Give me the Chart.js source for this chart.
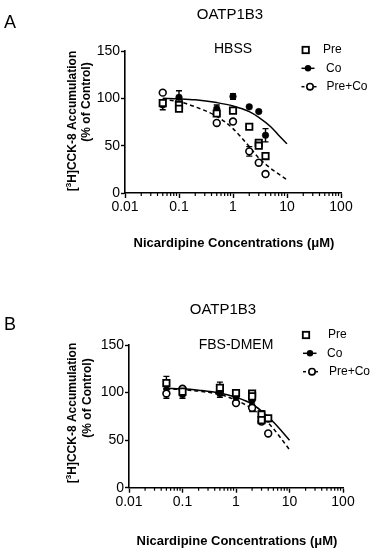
<!DOCTYPE html>
<html>
<head>
<meta charset="utf-8">
<script src="https://cdn.jsdelivr.net/npm/chart.js@4"></script>
<style>
  html, body { margin: 0; padding: 0; background: #fff; }
  #wrap { position: relative; width: 375px; height: 550px; }
  canvas { position: absolute; left: 0; }
  #chartA { top: 0; }
  #chartB { top: 275px; }
</style>
</head>
<body>
<div id="wrap">
  <canvas id="chartA" width="375" height="275"></canvas>
  <canvas id="chartB" width="375" height="275"></canvas>
</div>
<script>
const FONT = "'Liberation Sans', Arial, Helvetica, sans-serif";

// shared axes / labels
const xTicks = [0.01, 0.1, 1, 10, 100];
const xTickLabels = ['0.01', '0.1', '1', '10', '100'];
const yTicks = [0, 50, 100, 150];
const yTickLabels = ['0', '50', '100', '150'];
const seriesNames = ['Pre', 'Co', 'Pre+Co'];
const panelTitle = 'OATP1B3';
const xTitle = 'Nicardipine Concentrations (\u03bcM)';

// Panel A - HBSS
const aPreX = [0.05, 0.1, 0.1, 0.5, 1, 2, 3, 3, 4];
const aPreY = [95, 93, 89, 84, 87, 70, 53, 50, 39];
const aPreErr = [3, 0, 2, 3, 2, 0, 2, 0, 2];
const aCoX = [0.05, 0.1, 0.5, 1, 2, 3, 4];
const aCoY = [93, 101, 89, 102, 91, 86, 61];
const aCoErr = [5, 7, 4, 3, 0, 0, 7];
const aPcX = [0.05, 0.1, 0.5, 1, 2, 3, 4];
const aPcY = [106, 96, 74, 75.5, 44, 32, 20];
const aPcErr = [0, 0, 0, 0, 5, 0, 0];
// fitted curves
const aCoFitX = [0.05, 0.1, 0.2, 0.5, 1, 2, 3, 5, 7, 10];
const aCoFitY = [100, 99.5, 98.5, 95.5, 92, 86, 80, 70, 61, 52];
const aPcFitX = [0.05, 0.1, 0.2, 0.5, 1, 2, 3, 5, 10];
const aPcFitY = [99, 96.5, 91, 81, 68, 49, 37, 26, 14];

// Panel B - FBS-DMEM
const bPreX = [0.05, 0.1, 0.5, 1, 2, 2, 3, 3, 4];
const bPreY = [110, 101, 105, 99.5, 99, 96, 77, 71, 73];
const bPreErr = [7, 3, 6, 2, 3, 0, 4, 0, 2];
const bCoX = [0.05, 0.1, 0.5, 1, 2, 3, 4];
const bCoY = [108, 98, 99, 95, 92, 75, 72];
const bCoErr = [4, 4, 4, 0, 5, 5, 0];
const bPcX = [0.05, 0.1, 0.5, 1, 2, 3, 4];
const bPcY = [99, 104, 101, 89, 84, 69.5, 57];
const bPcErr = [5, 2, 0, 0, 4, 0, 0];
const bCoFitX = [0.05, 0.1, 0.2, 0.5, 1, 2, 3, 5, 10];
const bCoFitY = [104.5, 104, 102.5, 99.5, 95, 88, 80.5, 69, 50];
const bPcFitX = [0.05, 0.1, 0.2, 0.5, 1, 2, 3, 5, 10];
const bPcFitY = [104, 103, 101.5, 98, 92, 83, 75, 62, 40];

const pts = (xs, ys) => xs.map((x, i) => ({ x, y: ys[i] }));

// error bars under the markers
const errorBars = {
  id: 'errorBars',
  beforeDatasetsDraw(chart) {
    const { ctx, scales: { x, y } } = chart;
    ctx.save();
    ctx.strokeStyle = '#000';
    ctx.lineWidth = 1.4;
    chart.data.datasets.forEach(ds => {
      if (!ds.errors) return;
      ds.data.forEach((p, i) => {
        const e = ds.errors[i];
        if (!e) return;
        const px = x.getPixelForValue(p.x);
        const y1 = y.getPixelForValue(p.y + e), y2 = y.getPixelForValue(p.y - e);
        ctx.beginPath();
        ctx.moveTo(px, y1); ctx.lineTo(px, y2);
        ctx.moveTo(px - 3, y1); ctx.lineTo(px + 3, y1);
        ctx.moveTo(px - 3, y2); ctx.lineTo(px + 3, y2);
        ctx.stroke();
      });
    });
    ctx.restore();
  }
};

function drawSquare(ctx, x, y) {
  ctx.fillStyle = '#fff'; ctx.strokeStyle = '#000'; ctx.lineWidth = 1.8;
  ctx.fillRect(x - 3.2, y - 3.2, 6.4, 6.4);
  ctx.strokeRect(x - 3.2, y - 3.2, 6.4, 6.4);
}
function drawDot(ctx, x, y, r, filled) {
  ctx.beginPath(); ctx.arc(x, y, r, 0, Math.PI * 2);
  ctx.fillStyle = filled ? '#000' : '#fff'; ctx.fill();
  if (!filled) { ctx.strokeStyle = '#000'; ctx.lineWidth = 1.6; ctx.stroke(); }
}

function makePanel(id, d, lay) {
  const decor = {
    id: 'decor' + id,
    afterDraw(chart) {
      const { ctx, scales: { x } } = chart;
      const bottom = chart.chartArea.bottom;
      ctx.save();
      // minor log ticks
      ctx.strokeStyle = '#000'; ctx.lineWidth = 1.2;
      for (let k = 0; k < xTicks.length - 1; k++) {
        for (let m = 2; m <= 9; m++) {
          const px = x.getPixelForValue(xTicks[k] * m);
          ctx.beginPath(); ctx.moveTo(px, bottom); ctx.lineTo(px, bottom + 3); ctx.stroke();
        }
      }
      ctx.fillStyle = '#000';
      ctx.textBaseline = 'middle';
      // panel letter and title
      ctx.textAlign = 'center';
      ctx.font = `18px ${FONT}`;
      ctx.fillText(lay.letter, lay.letterX, lay.letterY);
      ctx.font = `15px ${FONT}`;
      ctx.fillText(panelTitle, lay.titleX, lay.titleY);
      ctx.font = `14px ${FONT}`;
      ctx.fillText(lay.medium, lay.medX, lay.medY);
      // x title
      ctx.font = `bold 13px ${FONT}`;
      ctx.fillText(xTitle, lay.xtX, lay.xtY);
      // y title, two rotated lines with superscript 3
      ctx.save();
      ctx.translate(lay.yt1X, lay.yt1Y);
      ctx.rotate(-Math.PI / 2);
      const parts = [['[', 12, 0], ['3', 8, -4], ['H]CCK-8 Accumulation', 12, 0]];
      let total = 0;
      parts.forEach(p => { ctx.font = `bold ${p[1]}px ${FONT}`; total += ctx.measureText(p[0]).width; });
      let cx = -total / 2;
      ctx.textAlign = 'left';
      parts.forEach(p => {
        ctx.font = `bold ${p[1]}px ${FONT}`;
        ctx.fillText(p[0], cx, p[2]);
        cx += ctx.measureText(p[0]).width;
      });
      ctx.restore();
      ctx.save();
      ctx.translate(lay.yt2X, lay.yt2Y);
      ctx.rotate(-Math.PI / 2);
      ctx.textAlign = 'center';
      ctx.font = `bold 12px ${FONT}`;
      ctx.fillText('(% of Control)', 0, 0);
      ctx.restore();
      // legend
      const L = lay.legend;
      drawSquare(ctx, L.mx[0], L.y[0]);
      ctx.strokeStyle = '#000'; ctx.lineWidth = 1.5;
      ctx.beginPath(); ctx.moveTo(L.line[0], L.y[1]); ctx.lineTo(L.line[1], L.y[1]); ctx.stroke();
      drawDot(ctx, L.mx[1], L.y[1], 3.2, true);
      ctx.setLineDash([3, 3]);
      ctx.beginPath(); ctx.moveTo(L.line[0], L.y[2]); ctx.lineTo(L.line[1] + 2, L.y[2]); ctx.stroke();
      ctx.setLineDash([]);
      drawDot(ctx, L.mx[2], L.y[2], 3.2, false);
      ctx.fillStyle = '#000'; ctx.textAlign = 'left';
      ctx.font = `12px ${FONT}`;
      seriesNames.forEach((n, i) => ctx.fillText(n, L.tx[i], L.y[i]));
      ctx.restore();
    }
  };

  const area = lay.area;
  return new Chart(document.getElementById(id), {
    type: 'scatter',
    data: {
      datasets: [
        { label: 'Pre', data: pts(d.preX, d.preY), errors: d.preErr, order: 0,
          pointStyle: 'rect', pointRadius: 4.5, pointBackgroundColor: '#fff',
          pointBorderColor: '#000', pointBorderWidth: 1.8 },
        { label: 'Co', data: pts(d.coX, d.coY), errors: d.coErr, order: 1,
          pointStyle: 'circle', pointRadius: 3.3, pointBackgroundColor: '#000',
          pointBorderColor: '#000', pointBorderWidth: 0.5 },
        { label: 'Pre+Co', data: pts(d.pcX, d.pcY), errors: d.pcErr, order: 2,
          pointStyle: 'circle', pointRadius: 3.4, pointBackgroundColor: '#fff',
          pointBorderColor: '#000', pointBorderWidth: 1.6 },
        { label: 'Co fit', data: pts(d.coFitX, d.coFitY), order: 3, showLine: true,
          pointRadius: 0, borderColor: '#000', borderWidth: 1.5, cubicInterpolationMode: 'monotone' },
        { label: 'Pre+Co fit', data: pts(d.pcFitX, d.pcFitY), order: 4, showLine: true,
          pointRadius: 0, borderColor: '#000', borderWidth: 1.5, borderDash: [4, 3],
          cubicInterpolationMode: 'monotone' }
      ]
    },
    options: {
      responsive: false,
      animation: false,
      layout: { padding: { left: 0, top: area.top, right: 375 - area.right, bottom: 275 - area.bottom - 30 } },
      plugins: { legend: { display: false }, tooltip: { enabled: false } },
      scales: {
        x: {
          type: 'logarithmic', min: 0.01, max: 100,
          afterBuildTicks: s => { s.ticks = xTicks.map(v => ({ value: v })); },
          afterFit: s => { s.height = 30; },
          ticks: { callback: (v, i) => xTickLabels[i], color: '#000', padding: 1,
                   autoSkip: false, maxRotation: 0, font: { family: FONT, size: 14 } },
          grid: { drawOnChartArea: false, tickLength: 5, color: '#000', tickWidth: 1.4 },
          border: { color: '#000', width: 1.6 }
        },
        y: {
          min: 0, max: 150,
          afterBuildTicks: s => { s.ticks = yTicks.map(v => ({ value: v })); },
          afterFit: s => { s.width = area.left; },
          ticks: { callback: (v, i) => yTickLabels[i], color: '#000', padding: 1,
                   font: { family: FONT, size: 14 } },
          grid: { drawOnChartArea: false, tickLength: 4, color: '#000', tickWidth: 1.4 },
          border: { color: '#000', width: 1.6 }
        }
      }
    },
    plugins: [errorBars, decor]
  });
}

makePanel('chartA', {
  preX: aPreX, preY: aPreY, preErr: aPreErr,
  coX: aCoX, coY: aCoY, coErr: aCoErr,
  pcX: aPcX, pcY: aPcY, pcErr: aPcErr,
  coFitX: aCoFitX, coFitY: aCoFitY, pcFitX: aPcFitX, pcFitY: aPcFitY
}, {
  area: { left: 125, right: 341, top: 51, bottom: 193 },
  letter: 'A', letterX: 10, letterY: 23,
  titleX: 230, titleY: 15,
  medium: 'HBSS', medX: 233, medY: 49,
  xtX: 234, xtY: 243,
  yt1X: 73, yt1Y: 121, yt2X: 87, yt2Y: 102,
  legend: { y: [50, 68.3, 86.7], mx: [305.7, 308, 310], line: [301.5, 314.5], tx: [323, 326, 326.5] }
});

makePanel('chartB', {
  preX: bPreX, preY: bPreY, preErr: bPreErr,
  coX: bCoX, coY: bCoY, coErr: bCoErr,
  pcX: bPcX, pcY: bPcY, pcErr: bPcErr,
  coFitX: bCoFitX, coFitY: bCoFitY, pcFitX: bPcFitX, pcFitY: bPcFitY
}, {
  area: { left: 129, right: 343, top: 70, bottom: 212.7 },
  letter: 'B', letterX: 10, letterY: 50,
  titleX: 223, titleY: 35,
  medium: 'FBS-DMEM', medX: 236, medY: 70,
  xtX: 237, xtY: 266,
  yt1X: 73, yt1Y: 138, yt2X: 88, yt2Y: 123,
  legend: { y: [60, 78.3, 96.7], mx: [306, 310, 312], line: [303, 316.5], tx: [328, 327, 329] }
});
</script>
</body>
</html>
